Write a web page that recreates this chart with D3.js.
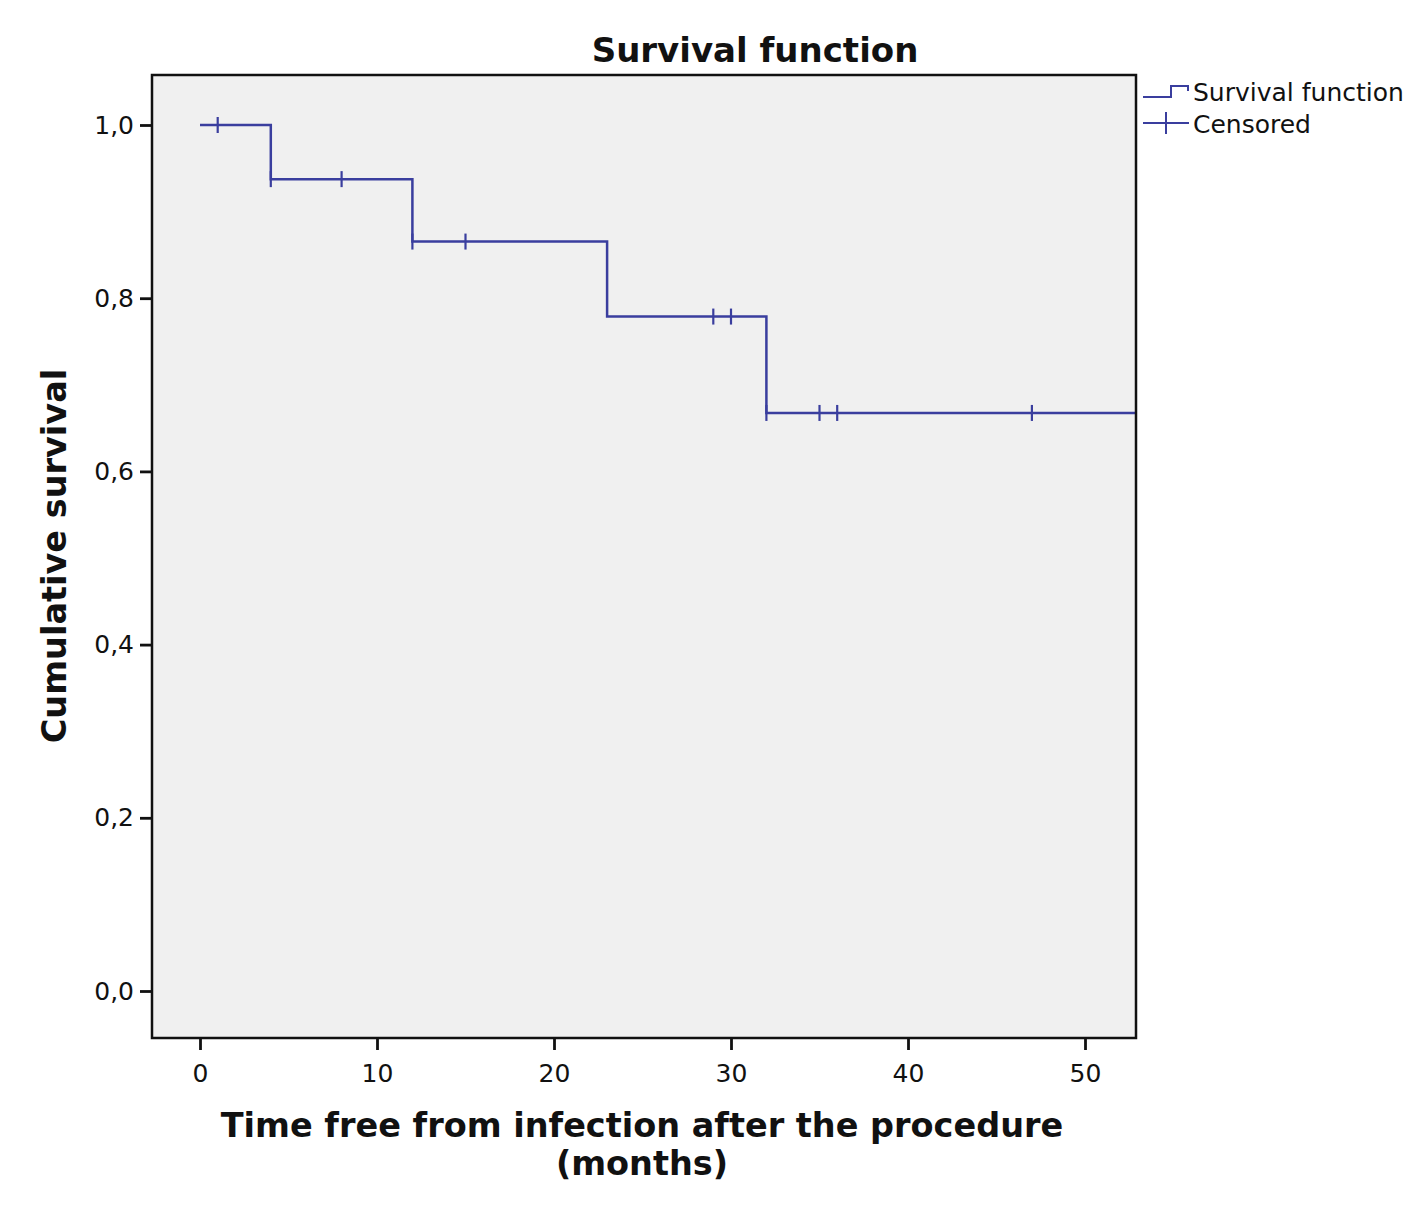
<!DOCTYPE html>
<html>
<head>
<meta charset="utf-8">
<script src="https://cdn.jsdelivr.net/npm/d3@7"></script>
<style>
  body { margin: 0; background: #fff; }
  svg text { font-family: "DejaVu Sans", sans-serif; fill: #111; }
</style>
</head>
<body>
<div id="chart"></div>
<script>
// Kaplan-Meier step data (time in months, cumulative survival)
const stepTimes = [0, 4, 12, 23, 32, 53];
const stepSurvival = [1.0, 0.9375, 0.8654, 0.7788, 0.6675, 0.6675];

// Censored observations
const censorTimes = [1, 4, 8, 12, 15, 29, 30, 32, 35, 36, 47];

const xTicks = [0, 10, 20, 30, 40, 50];
const yTicks = [0, 0.2, 0.4, 0.6, 0.8, 1.0];

const W = 1417, H = 1213;
const plot = { left: 152, right: 1136, top: 75, bottom: 1038 };
const lineColor = "#3a3e9e";

const svg = d3.select("#chart").append("svg")
  .attr("width", W).attr("height", H);

const x = d3.scaleLinear().domain([0, 50]).range([200, 1085]);
const y = d3.scaleLinear().domain([0, 1]).range([991, 125]);

// plot background
svg.append("rect")
  .attr("x", plot.left).attr("y", plot.top)
  .attr("width", plot.right - plot.left).attr("height", plot.bottom - plot.top)
  .attr("fill", "#f0f0f0");

svg.append("clipPath").attr("id", "clip")
  .append("rect")
  .attr("x", plot.left).attr("y", plot.top)
  .attr("width", plot.right - plot.left).attr("height", plot.bottom - plot.top);

// step curve
const stepData = stepTimes.map((t, i) => ({ t, s: stepSurvival[i] }));
const line = d3.line().x(d => x(d.t)).y(d => y(d.s)).curve(d3.curveStepAfter);
svg.append("path")
  .datum(stepData)
  .attr("clip-path", "url(#clip)")
  .attr("fill", "none")
  .attr("stroke", lineColor)
  .attr("stroke-width", 2.5)
  .attr("d", line);

// survival at time t (value after step)
function survAt(t) {
  let s = stepSurvival[0];
  stepTimes.forEach((st, i) => { if (t >= st) s = stepSurvival[i]; });
  return s;
}

svg.append("g").selectAll("line")
  .data(censorTimes)
  .join("line")
  .attr("x1", d => x(d)).attr("x2", d => x(d))
  .attr("y1", d => y(survAt(d)) - 8).attr("y2", d => y(survAt(d)) + 8)
  .attr("stroke", lineColor)
  .attr("stroke-width", 2.2);

// frame
svg.append("rect")
  .attr("x", plot.left).attr("y", plot.top)
  .attr("width", plot.right - plot.left).attr("height", plot.bottom - plot.top)
  .attr("fill", "none").attr("stroke", "#111").attr("stroke-width", 2.5);

// axes
const fmt = d => d3.format(".1f")(d).replace(".", ",");
const yAxis = svg.append("g")
  .attr("transform", `translate(${plot.left},0)`)
  .call(d3.axisLeft(y).tickValues(yTicks).tickFormat(fmt).tickSize(12).tickPadding(6));
yAxis.select(".domain").remove();
yAxis.selectAll("line").attr("stroke", "#111").attr("stroke-width", 2.8);
yAxis.selectAll("text").style("font-size", "25px").attr("fill", "#111");

const xAxis = svg.append("g")
  .attr("transform", `translate(0,${plot.bottom})`)
  .call(d3.axisBottom(x).tickValues(xTicks).tickSize(12).tickPadding(14));
xAxis.select(".domain").remove();
xAxis.selectAll("line").attr("stroke", "#111").attr("stroke-width", 2.8);
xAxis.selectAll("text").style("font-size", "25px").attr("fill", "#111");

// titles
svg.append("text")
  .attr("x", 755).attr("y", 62)
  .attr("text-anchor", "middle")
  .style("font-size", "34px").style("font-weight", "bold")
  .text("Survival function");

svg.append("text")
  .attr("x", 642).attr("y", 1137)
  .attr("text-anchor", "middle")
  .style("font-size", "33.5px").style("font-weight", "bold")
  .text("Time free from infection after the procedure");
svg.append("text")
  .attr("x", 642).attr("y", 1175)
  .attr("text-anchor", "middle")
  .style("font-size", "33.5px").style("font-weight", "bold")
  .text("(months)");

svg.append("text")
  .attr("transform", "translate(66,556) rotate(-90)")
  .attr("text-anchor", "middle")
  .style("font-size", "33.5px").style("font-weight", "bold")
  .text("Cumulative survival");

// legend
const lg = svg.append("g");
lg.append("path")
  .attr("d", "M1143,97 H1171 V86 H1188 V91")
  .attr("fill", "none").attr("stroke", lineColor).attr("stroke-width", 2);
lg.append("text").attr("x", 1193).attr("y", 101)
  .style("font-size", "25px").text("Survival function");
lg.append("line")
  .attr("x1", 1143).attr("x2", 1189).attr("y1", 123).attr("y2", 123)
  .attr("stroke", lineColor).attr("stroke-width", 2);
lg.append("line")
  .attr("x1", 1166).attr("x2", 1166).attr("y1", 112).attr("y2", 134)
  .attr("stroke", lineColor).attr("stroke-width", 2);
lg.append("text").attr("x", 1193).attr("y", 133)
  .style("font-size", "25px").text("Censored");
</script>
</body>
</html>
